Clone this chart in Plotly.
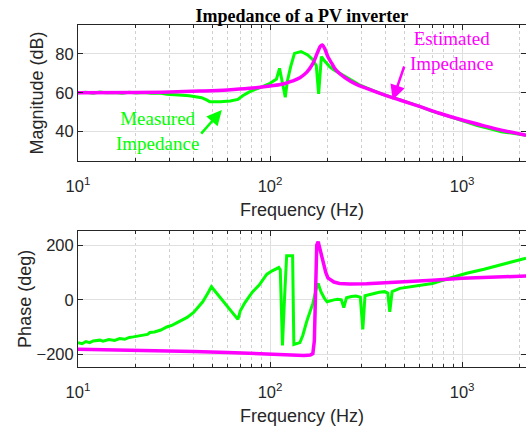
import math
import plotly.graph_objects as go

# ---- Magnitude data (Hz, dB) ----
meas_mag_f = [10, 11, 12, 13, 14, 15.5, 17, 18.5, 20, 22, 24, 26.7, 29, 32, 35, 38, 41, 44, 47, 48.5,
              55, 62, 68, 72, 78, 85, 92, 100, 108, 112, 115, 120, 123, 128, 134, 139, 145, 150, 157,
              167, 174, 179, 185, 192, 204, 215, 230, 259, 290, 318, 350, 385, 430, 474, 550, 620,
              700, 800, 920, 1055, 1200, 1400, 1600, 1800, 2000, 2150]
meas_mag_db = [60, 60.3, 59.8, 60.4, 60, 60.2, 59.8, 60.3, 59.9, 60.2, 59.8, 59.9, 59.3, 59.2, 58.8,
               58.5, 58, 57.5, 56.2, 55.4, 55.4, 55.8, 56.6, 58.5, 60.5, 61.8, 63.3, 64.9, 67.1, 72.6,
               67, 57.7, 66, 73.5, 80.3, 80.6, 81.2, 80.5, 79.5, 77, 74, 59.4, 78.6, 76.5, 73.5, 71.8, 70,
               66.8, 64.2, 62.5, 60.7, 59.2, 57.8, 56.5, 54.3, 52.5, 50.5, 48.8, 46.8, 45.0, 43.2,
               41.5, 40.0, 39.3, 38.6, 38.1]

est_mag_f = [10, 20, 30, 43, 60, 78, 100, 117, 130, 143, 155, 167, 177, 183, 187, 192, 200, 210,
             220, 248, 280, 318, 400, 474, 600, 762, 1000, 1300, 1600, 2000, 2150]
est_mag_db = [60, 60.1, 60.4, 60.9, 61.5, 62.3, 63.5, 64.5, 66, 67.8, 70.5, 75, 81, 84, 84.6, 83,
              78.6, 75, 71.8, 67.5, 64.5, 62.3, 58.7, 56.3, 53, 49.5, 46, 43, 40.8, 38.8, 38.2]

# ---- Phase data (Hz, deg) ----
meas_ph_f = [10, 10.5, 11, 11.5, 12, 13, 13.5, 14.5, 15.5, 16.5, 17.5, 18.5, 19.4, 20.5, 21.5, 23,
             23.7, 25, 27, 29, 31, 33, 35, 37, 40, 42, 44.6, 47, 49.5, 68, 70, 74, 81, 88, 96, 102,
             108, 111, 113, 116, 119, 122, 131, 133, 143, 148, 155, 160, 167, 174, 178, 184, 192,
             198, 205, 215, 225, 235, 242, 250, 265, 280, 295, 304, 312, 330, 350, 370, 395, 410,
             420, 432, 474, 550, 600, 700, 850, 1055, 1300, 1570, 1800, 2150]
meas_ph_deg = [-156, -160, -152, -156, -150, -147, -151, -145, -148, -141, -144, -137, -135, -132,
               -128, -126, -119, -117, -110, -99, -92, -83, -74, -64, -46, -30, -7, 20, 48, -71, -40,
               -10, 29, 55, 93, 105, 115, 118, 110, -166, 10, 161, 161, -163, -156, -130, -80, -50,
               -13, 42, 60, 30, 5, -7, -3, 0, 2, 0, -28, 8, 12, 14, 10, -108, 15, 20, 25, 28, 30,
               25, -44, 30, 42, 48, 52, 60, 78, 97, 112, 127, 140, 152]

est_ph_f = [10, 20, 40, 60, 100, 130, 150, 162, 167, 170, 172, 175, 178, 183, 189, 195, 200, 215,
            230, 260, 318, 450, 700, 1000, 1500, 2150]
est_ph_deg = [-180, -183, -188, -192, -198, -202, -203, -201, -196, -150, 0, 200, 212, 175, 133,
              100, 80, 65, 60, 58, 59, 64, 72, 79, 84, 87]

# ---- Axis ticks ----
x_major = [10, 100, 1000]
x_major_text = ["10<sup>1</sup>", "10<sup>2</sup>", "10<sup>3</sup>"]
x_minor = [20, 30, 40, 50, 60, 70, 80, 90, 200, 300, 400, 500, 600, 700, 800, 900, 2000]
mag_ticks = [40, 60, 80]
ph_ticks = [-200, 0, 200]

GREEN = "#00ff00"
MAGENTA = "#ff00ff"
AX = "#262626"
SANS = "Liberation Sans"
SERIF = "Liberation Serif"

fig = go.Figure()
fig.add_trace(go.Scatter(x=meas_mag_f, y=meas_mag_db, mode="lines",
                         line=dict(color=GREEN, width=3), xaxis="x", yaxis="y"))
fig.add_trace(go.Scatter(x=est_mag_f, y=est_mag_db, mode="lines", line_shape="spline",
                         line=dict(color=MAGENTA, width=3.5), xaxis="x", yaxis="y"))
fig.add_trace(go.Scatter(x=meas_ph_f, y=meas_ph_deg, mode="lines",
                         line=dict(color=GREEN, width=3), xaxis="x2", yaxis="y2"))
fig.add_trace(go.Scatter(x=est_ph_f, y=est_ph_deg, mode="lines",
                         line=dict(color=MAGENTA, width=3.5), xaxis="x2", yaxis="y2"))

xcommon = dict(type="log", range=[1, math.log10(2150)], tickmode="array", tickvals=x_major,
               ticktext=x_major_text, ticks="inside", ticklen=5, tickcolor=AX,
               ticklabelstandoff=10,
               showline=True, linecolor=AX, linewidth=1, mirror="ticks",
               showgrid=True, gridcolor="#e0e0e0", gridwidth=1, zeroline=False,
               tickfont=dict(family=SANS, size=16.5, color=AX),
               minor=dict(tickmode="array", tickvals=x_minor, ticks="inside", ticklen=3,
                          tickcolor=AX, showgrid=True, gridcolor="#d0d0d0", griddash="dot",
                          gridwidth=1),
               title=dict(text="Frequency (Hz)", font=dict(family=SANS, size=18, color=AX),
                          standoff=9))
ycommon = dict(ticks="inside", ticklen=5, tickcolor=AX, showline=True, linecolor=AX, linewidth=1,
               mirror="ticks", showgrid=True, gridcolor="#e0e0e0", zeroline=False,
               tickfont=dict(family=SANS, size=16.5, color=AX))

fig.update_layout(
    width=526, height=429, paper_bgcolor="white", plot_bgcolor="white",
    margin=dict(l=78, r=0, t=25, b=62), showlegend=False,
    xaxis=dict(xcommon, domain=[0, 1], anchor="y"),
    yaxis=dict(ycommon, domain=[0.6023, 1], anchor="x", range=[24.9, 94.9],
               tickvals=mag_ticks,
               title=dict(text="Magnitude (dB)", font=dict(family=SANS, size=18, color=AX),
                          standoff=7)),
    xaxis2=dict(xcommon, domain=[0, 1], anchor="y2"),
    yaxis2=dict(ycommon, domain=[0, 0.3985], anchor="x2", range=[-245, 252.4],
                tickvals=ph_ticks,
                title=dict(text="Phase (deg)", font=dict(family=SANS, size=18, color=AX),
                           standoff=0)),
    title=dict(text="<b>Impedance of a PV inverter</b>", x=0.574, xanchor="center",
               y=0.964, yanchor="middle", font=dict(family=SERIF, size=18, color="black")),
)

annotations = [
    dict(text="Measured<br>Impedance", x=1.416, y=40.4, xref="x", yref="y", showarrow=False,
         font=dict(family=SERIF, size=19, color=GREEN), xanchor="center", yanchor="middle"),
    dict(text="Estimated<br>Impedance", x=2.945, y=81.3, xref="x", yref="y", showarrow=False,
         font=dict(family=SERIF, size=19, color=MAGENTA), xanchor="center", yanchor="middle"),
    dict(text="", x=math.log10(56.1), y=51.1, xref="x", yref="y", showarrow=True,
         ax=-22, ay=25, arrowcolor=GREEN, arrowwidth=2.5, arrowhead=2, arrowsize=1.2,
         standoff=0, startstandoff=0),
    dict(text="", x=math.log10(435), y=56.3, xref="x", yref="y", showarrow=True,
         ax=12, ay=-35, arrowcolor=MAGENTA, arrowwidth=2.5, arrowhead=2, arrowsize=1.2,
         standoff=0, startstandoff=0),
]
fig.update_layout(annotations=annotations)

fig.write_html("out.html", config={"displayModeBar": False})
